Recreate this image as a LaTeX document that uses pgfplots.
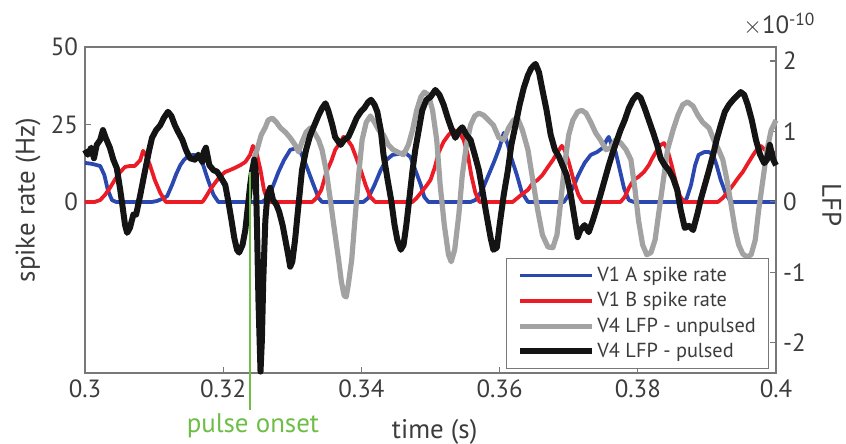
\documentclass[border=0pt]{standalone}
\usepackage{pgfplots}
\pgfplotsset{compat=1.18}
\usepackage{fontspec}
\setmainfont{PT Sans}
\definecolor{cblue}{RGB}{42,72,175}
\definecolor{cred}{RGB}{235,28,38}
\definecolor{cgray}{RGB}{162,162,162}
\definecolor{cblack}{RGB}{20,20,20}
\definecolor{cgreen}{RGB}{110,190,70}
\definecolor{txt}{RGB}{60,60,60}
\definecolor{spine}{RGB}{120,120,120}
\begin{document}
\begin{tikzpicture}
\useasboundingbox (-42.5bp,-35.5bp) rectangle (380.5bp,186.5bp);
\pgfplotsset{
  every axis/.append style={
    scale only axis, width=345.5bp, height=163bp,
    at={(0,0)}, anchor=south west,
    xmin=0.3, xmax=0.4,
    tick align=inside, major tick length=3bp,
    axis line style={spine, line width=0.6pt},
    every tick/.style={spine, line width=0.6pt},
    tick label style={font=\fontsize{12.5}{14}\selectfont, text=txt},
    label style={font=\fontsize{13.5}{15}\selectfont, text=txt},
    /pgf/number format/assume math mode=true,
  },
}
% left axis: spike rates
\begin{axis}[
    ymin=-55.2, ymax=50,
    ytick={0,25,50},
    xtick={0.3,0.32,0.34,0.36,0.38,0.4},
    xticklabel style={/pgf/number format/fixed, /pgf/number format/precision=2},
    xtick pos=bottom, ytick pos=left,
    xlabel={time (s)},
    ylabel={spike rate (Hz)},
    xlabel style={at={(axis description cs:0.506,-0.18)}, anchor=center},
    ylabel style={at={(axis description cs:-0.0825,0.53)}, anchor=center},
  ]
  % V1 A spike rate
  \addplot[cblue, line width=1.9bp, line join=round] coordinates {
    (0.3000,12.6) (0.3010,12.3) (0.3022,11.6) (0.3028,8.7) (0.3033,3.9) (0.3039,0.6)
    (0.3045,0) (0.3097,0) (0.3104,0.3) (0.3112,1.0) (0.3119,1.9) (0.3126,5.5)
    (0.3132,9.0) (0.3138,11.9) (0.3143,13.5) (0.3149,14.8) (0.3157,15.2) (0.3164,14.5)
    (0.3171,11.9) (0.3178,7.1) (0.3186,2.3) (0.3193,0) (0.3257,0) (0.3262,1.0)
    (0.3271,4.5) (0.3280,9.7) (0.3288,13.5) (0.3297,16.8) (0.3306,17.4) (0.3312,16.1)
    (0.3320,11.9) (0.3329,6.5) (0.3338,1.3) (0.3343,0) (0.3403,0) (0.3410,1.3)
    (0.3419,5.5) (0.3428,10.3) (0.3436,13.5) (0.3445,15.2) (0.3454,15.5) (0.3462,16.1)
    (0.3471,14.5) (0.3478,10.3) (0.3486,5.5) (0.3491,1.6) (0.3497,0) (0.3558,0)
    (0.3565,0.6) (0.3575,3.9) (0.3584,8.7) (0.3593,13.5) (0.3600,17.7) (0.3606,22.3)
    (0.3612,18.4) (0.3617,14.2) (0.3625,8.7) (0.3632,3.2) (0.3641,0) (0.3693,0)
    (0.3697,1.3) (0.3706,4.5) (0.3714,8.7) (0.3723,12.6) (0.3732,15.2) (0.3741,16.1)
    (0.3749,17.4) (0.3755,20.0) (0.3758,21.0) (0.3762,18.4) (0.3768,16.1) (0.3774,10.3)
    (0.3780,4.5) (0.3787,0.6) (0.3794,0) (0.3867,0) (0.3871,1.3) (0.3877,5.5)
    (0.3883,11.9) (0.3888,15.2) (0.3896,16.1) (0.3903,16.1) (0.3909,15.2) (0.3914,11.9)
    (0.3920,7.1) (0.3928,2.3) (0.3935,0) (0.4000,0)
  };
  % V1 B spike rate
  \addplot[cred, line width=1.9bp, line join=round] coordinates {
    (0.3000,0) (0.3014,0) (0.3022,0.6) (0.3029,2.3) (0.3036,4.5) (0.3043,7.1)
    (0.3051,9.7) (0.3058,11.3) (0.3065,11.6) (0.3072,11.6) (0.3080,13.5) (0.3084,16.5)
    (0.3088,15.2) (0.3094,11.9) (0.3101,7.1) (0.3109,2.9) (0.3117,0) (0.3170,0)
    (0.3174,1.3) (0.3181,3.9) (0.3188,6.1) (0.3196,8.4) (0.3203,9.7) (0.3210,10.3)
    (0.3217,11.0) (0.3225,11.9) (0.3232,12.9) (0.3239,15.2) (0.3243,18.1) (0.3248,16.1)
    (0.3254,10.3) (0.3259,3.9) (0.3265,0) (0.3329,0) (0.3335,1.3) (0.3342,3.9)
    (0.3349,9.4) (0.3357,13.5) (0.3362,16.8) (0.3370,19.4) (0.3374,21.0) (0.3380,20.0)
    (0.3386,18.1) (0.3391,15.2) (0.3399,10.3) (0.3406,5.5) (0.3413,1.6) (0.3420,0)
    (0.3474,0) (0.3480,1.3) (0.3487,3.2) (0.3494,5.2) (0.3500,7.1) (0.3506,11.0)
    (0.3512,16.1) (0.3519,19.4) (0.3526,21.6) (0.3533,23.2) (0.3541,22.6) (0.3548,20.0)
    (0.3554,15.2) (0.3559,8.7) (0.3565,2.9) (0.3571,0) (0.3619,0) (0.3626,1.3)
    (0.3633,2.6) (0.3641,3.9) (0.3648,6.1) (0.3655,7.1) (0.3662,8.7) (0.3670,11.3)
    (0.3677,13.5) (0.3684,16.1) (0.3690,18.1) (0.3694,16.8) (0.3700,12.9) (0.3707,7.1)
    (0.3714,2.3) (0.3720,0) (0.3775,0) (0.3781,1.6) (0.3787,4.5) (0.3794,7.1)
    (0.3801,8.1) (0.3809,9.7) (0.3816,11.9) (0.3822,14.5) (0.3828,16.8) (0.3833,18.4)
    (0.3838,19.0) (0.3843,16.8) (0.3849,11.9) (0.3855,6.5) (0.3861,1.9) (0.3867,0)
    (0.3916,0) (0.3923,1.3) (0.3930,3.2) (0.3938,5.5) (0.3945,7.7) (0.3952,9.7)
    (0.3959,12.3) (0.3967,15.2) (0.3972,16.8) (0.3978,18.1) (0.3984,16.8) (0.3990,15.2)
    (0.3996,16.1) (0.4000,14.2)
  };
\end{axis}
% right axis: LFP (x 1e-10)
\begin{axis}[
    ymin=-2.43, ymax=2.2,
    ytick={-2,-1,0,1,2},
    axis y line*=right, axis x line=none,
    ylabel={LFP},
    ylabel style={at={(axis description cs:1.081,0.515)}, anchor=center, rotate=180},
    clip=false,
    legend cell align=left,
    legend style={at={(rel axis cs:1,0)}, anchor=south east, xshift=-3.5bp, yshift=2bp,
      draw=spine, line width=0.6pt, fill=white, text=txt,
      font=\fontsize{10.2}{12}\selectfont, row sep=0pt,
      inner xsep=5bp, inner ysep=2.2bp,
      nodes={text height=8.4bp, text depth=2.6bp, inner ysep=0.8bp, inner xsep=1.3bp},
      /tikz/every even column/.append style={column sep=8bp}},
    legend image code/.code={\draw[#1] (0bp,0bp) -- (36bp,0bp);},
  ]
  \addlegendimage{cblue, line width=1.6bp}
  \addlegendentry{V1 A spike rate}
  \addlegendimage{cred, line width=1.6bp}
  \addlegendentry{V1 B spike rate}
  % V4 LFP - unpulsed
  \addplot[cgray, line width=2.6bp, line join=round] coordinates {
    (0.3243,0.57) (0.3249,0.74) (0.3255,0.95) (0.3261,1.06) (0.3265,1.16) (0.3271,1.19)
    (0.3277,1.13) (0.3283,1.05) (0.3290,0.99) (0.3297,0.91) (0.3304,0.81) (0.3309,0.71)
    (0.3314,0.85) (0.3320,0.99) (0.3326,1.05) (0.3332,0.98) (0.3338,0.88) (0.3343,0.74)
    (0.3349,0.45) (0.3355,0.03) (0.3361,-0.40) (0.3367,-0.82) (0.3371,-1.13) (0.3375,-1.33)
    (0.3378,-1.35) (0.3381,-1.18) (0.3386,-0.82) (0.3390,-0.33) (0.3396,0.38) (0.3401,0.88)
    (0.3407,1.13) (0.3413,1.22) (0.3419,1.13) (0.3425,1.02) (0.3432,0.95) (0.3439,0.81)
    (0.3446,0.74) (0.3454,0.70) (0.3461,0.67) (0.3468,0.81) (0.3474,1.02) (0.3480,1.30)
    (0.3486,1.49) (0.3491,1.56) (0.3497,1.52) (0.3503,1.30) (0.3509,0.88) (0.3514,0.24)
    (0.3520,-0.33) (0.3526,-0.75) (0.3530,-0.85) (0.3535,-0.68) (0.3541,-0.18) (0.3546,0.38)
    (0.3552,0.81) (0.3558,1.09) (0.3564,1.22) (0.3570,1.26) (0.3577,1.23) (0.3584,1.16)
    (0.3591,1.09) (0.3599,0.91) (0.3606,0.88) (0.3613,1.05) (0.3620,1.16) (0.3626,1.19)
    (0.3633,1.02) (0.3641,0.74) (0.3648,0.31) (0.3655,-0.11) (0.3662,-0.47) (0.3670,-0.64)
    (0.3677,-0.65) (0.3683,-0.47) (0.3688,-0.04) (0.3694,0.52) (0.3700,0.95) (0.3706,1.16)
    (0.3713,1.28) (0.3719,1.30) (0.3725,1.26) (0.3732,1.13) (0.3739,0.98) (0.3746,0.88)
    (0.3754,0.74) (0.3761,0.77) (0.3768,0.88) (0.3775,0.84) (0.3783,0.74) (0.3790,0.60)
    (0.3796,0.17) (0.3801,-0.26) (0.3807,-0.61) (0.3813,-0.75) (0.3819,-0.72) (0.3825,-0.54)
    (0.3830,-0.18) (0.3836,0.24) (0.3843,0.74) (0.3851,1.02) (0.3858,1.23) (0.3865,1.38)
    (0.3872,1.42) (0.3880,1.36) (0.3887,1.23) (0.3894,1.13) (0.3903,1.05) (0.3910,0.88)
    (0.3917,0.74) (0.3923,0.60) (0.3929,0.31) (0.3935,-0.04) (0.3941,-0.40) (0.3946,-0.61)
    (0.3952,-0.74) (0.3958,-0.78) (0.3964,-0.75) (0.3970,-0.54) (0.3975,-0.11) (0.3981,0.31)
    (0.3987,0.74) (0.3993,1.02) (0.4000,1.16)
  };
  \addlegendentry{V4 LFP - unpulsed}
  % V4 LFP - pulsed
  \addplot[cblack, line width=3bp, line join=round] coordinates {
    (0.3000,0.74) (0.3004,0.67) (0.3009,0.77) (0.3013,0.62) (0.3017,0.81) (0.3022,0.88)
    (0.3026,1.02) (0.3030,0.91) (0.3036,0.77) (0.3041,0.60) (0.3046,0.48) (0.3051,0.17)
    (0.3054,-0.04) (0.3058,-0.33) (0.3061,-0.44) (0.3065,-0.37) (0.3070,-0.18) (0.3074,-0.18)
    (0.3080,0.10) (0.3087,0.45) (0.3093,0.74) (0.3097,0.91) (0.3103,1.02) (0.3109,1.09)
    (0.3114,1.19) (0.3120,1.28) (0.3125,1.22) (0.3130,1.09) (0.3135,0.99) (0.3141,0.88)
    (0.3146,0.74) (0.3152,0.62) (0.3159,0.60) (0.3164,0.67) (0.3170,0.57) (0.3172,0.71)
    (0.3175,0.77) (0.3180,0.52) (0.3186,0.45) (0.3191,0.43) (0.3197,0.34) (0.3203,0.24)
    (0.3207,0.03) (0.3212,-0.26) (0.3216,-0.51) (0.3220,-0.68) (0.3223,-0.72) (0.3228,-0.61)
    (0.3232,-0.40) (0.3236,-0.04) (0.3239,0.24) (0.3242,0.45) (0.3245,0.60) (0.3247,0.45)
    (0.3249,-0.40) (0.3251,-1.39) (0.3254,-2.41) (0.3256,-1.96) (0.3258,-1.11) (0.3261,-0.26)
    (0.3264,0.10) (0.3268,0.20) (0.3272,0.03) (0.3277,-0.04) (0.3281,-0.14) (0.3286,-0.33)
    (0.3290,-0.54) (0.3294,-0.75) (0.3297,-0.92) (0.3300,-0.85) (0.3304,-0.54) (0.3309,-0.04)
    (0.3314,0.45) (0.3320,0.74) (0.3326,0.95) (0.3332,1.09) (0.3338,1.23) (0.3343,1.33)
    (0.3348,1.40) (0.3352,1.30) (0.3358,1.09) (0.3362,0.92) (0.3370,0.81) (0.3375,0.88)
    (0.3381,0.92) (0.3387,1.05) (0.3393,1.19) (0.3399,1.28) (0.3404,1.33) (0.3410,1.42)
    (0.3414,1.45) (0.3419,1.38) (0.3423,1.28) (0.3428,1.02) (0.3432,0.67) (0.3438,0.31)
    (0.3443,0.03) (0.3448,-0.33) (0.3452,-0.54) (0.3457,-0.68) (0.3461,-0.61) (0.3465,-0.33)
    (0.3470,0.10) (0.3474,0.45) (0.3478,0.74) (0.3483,1.02) (0.3488,1.30) (0.3494,1.45)
    (0.3500,1.49) (0.3507,1.59) (0.3513,1.52) (0.3519,1.38) (0.3525,1.19) (0.3530,1.05)
    (0.3536,0.91) (0.3542,1.02) (0.3546,1.06) (0.3552,0.95) (0.3558,0.88) (0.3564,0.67)
    (0.3570,0.45) (0.3575,0.17) (0.3581,-0.18) (0.3587,-0.51) (0.3591,-0.68) (0.3596,-0.65)
    (0.3600,-0.33) (0.3606,0.10) (0.3612,0.45) (0.3617,0.81) (0.3623,1.09) (0.3629,1.38)
    (0.3635,1.62) (0.3641,1.80) (0.3646,1.90) (0.3652,1.96) (0.3657,1.84) (0.3662,1.59)
    (0.3668,1.30) (0.3674,0.95) (0.3680,0.74) (0.3686,0.64) (0.3691,0.52) (0.3697,0.38)
    (0.3703,0.10) (0.3709,-0.26) (0.3713,-0.50) (0.3717,-0.40) (0.3723,-0.33) (0.3729,-0.43)
    (0.3735,-0.26) (0.3741,-0.07) (0.3746,0.10) (0.3752,0.31) (0.3758,0.52) (0.3764,0.71)
    (0.3770,0.88) (0.3775,1.02) (0.3781,1.16) (0.3787,1.33) (0.3793,1.45) (0.3799,1.52)
    (0.3804,1.48) (0.3810,1.33) (0.3816,1.16) (0.3822,0.99) (0.3828,0.81) (0.3833,0.62)
    (0.3839,0.52) (0.3845,0.45) (0.3851,0.34) (0.3857,0.17) (0.3862,-0.11) (0.3868,-0.37)
    (0.3874,-0.34) (0.3880,-0.40) (0.3886,-0.18) (0.3891,0.03) (0.3897,0.24) (0.3903,0.45)
    (0.3909,0.67) (0.3914,0.88) (0.3920,1.09) (0.3926,1.28) (0.3932,1.38) (0.3938,1.45)
    (0.3943,1.50) (0.3949,1.56) (0.3954,1.52) (0.3959,1.38) (0.3965,1.16) (0.3971,0.88)
    (0.3977,0.67) (0.3983,0.55) (0.3987,0.60) (0.3991,0.81) (0.3996,0.60) (0.4000,0.52)
  };
  \addlegendentry{V4 LFP - pulsed}
  % pulse onset marker
  \addplot[cgreen, line width=1.2bp, forget plot] coordinates {(0.3239,0.43) (0.3239,-2.96)};
  \node[anchor=north, inner sep=0pt, text=cgreen, font=\fontsize{13.5}{15}\selectfont]
    at (axis cs:0.3243,-3.0) {pulse onset};
  \node[anchor=base west, inner sep=0pt, text=txt, font=\fontsize{12.5}{14}\selectfont]
    at ([shift={(-16.5bp,6.5bp)}]rel axis cs:1,1) {$\times$10\textsuperscript{-10}};
\end{axis}
\end{tikzpicture}
\end{document}
